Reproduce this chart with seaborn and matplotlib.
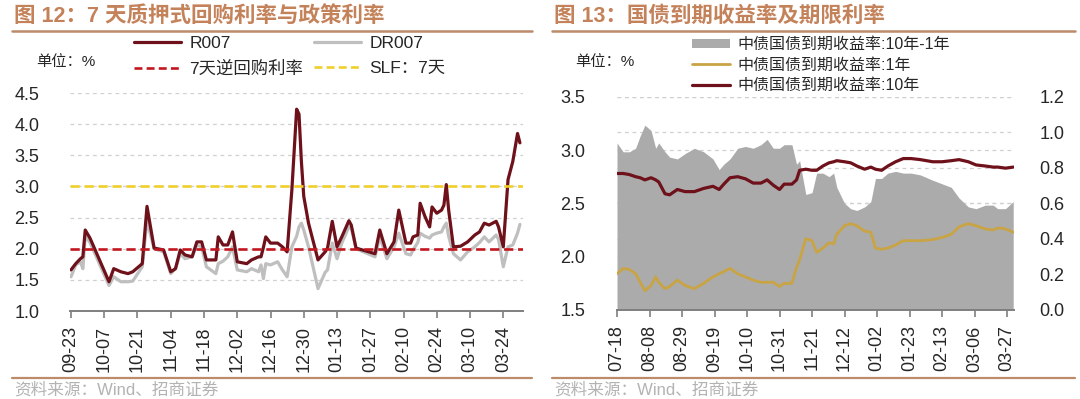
import pandas as pd
import matplotlib
matplotlib.use('Agg')
import matplotlib.pyplot as plt
import matplotlib.dates as mdates
from matplotlib.lines import Line2D
from matplotlib.patches import Patch
from matplotlib.ticker import FormatStrFormatter
import seaborn as sns

# ---- figure 12: 7-day repo rates vs policy rates ----
repo_dates = [
    '2022-09-23', '2022-09-25', '2022-09-27', '2022-09-28', '2022-09-29', '2022-10-01',
    '2022-10-09', '2022-10-11', '2022-10-14', '2022-10-17', '2022-10-19', '2022-10-23',
    '2022-10-25', '2022-10-28', '2022-11-01', '2022-11-04', '2022-11-06', '2022-11-08',
    '2022-11-10', '2022-11-13', '2022-11-15', '2022-11-17', '2022-11-19', '2022-11-23',
    '2022-11-24', '2022-11-26', '2022-11-28', '2022-11-30', '2022-12-02', '2022-12-06',
    '2022-12-08', '2022-12-11', '2022-12-12', '2022-12-13', '2022-12-14', '2022-12-16',
    '2022-12-19', '2022-12-21', '2022-12-23', '2022-12-25', '2022-12-27', '2022-12-28',
    '2022-12-29', '2022-12-30', '2023-01-01', '2023-01-05', '2023-01-08', '2023-01-09',
    '2023-01-11', '2023-01-13', '2023-01-15', '2023-01-18', '2023-01-19', '2023-01-21',
    '2023-01-29', '2023-01-31', '2023-02-03', '2023-02-06', '2023-02-08', '2023-02-11',
    '2023-02-13', '2023-02-14', '2023-02-16', '2023-02-17', '2023-02-19', '2023-02-21',
    '2023-02-22', '2023-02-24', '2023-02-26', '2023-02-27', '2023-02-28', '2023-03-01',
    '2023-03-03', '2023-03-06', '2023-03-09', '2023-03-12', '2023-03-14', '2023-03-16',
    '2023-03-18', '2023-03-21', '2023-03-22', '2023-03-24', '2023-03-26', '2023-03-28',
    '2023-03-30', '2023-03-31',
]
r007 = [
    1.66, 1.76, 1.84, 1.87, 2.30, 2.17,
    1.47, 1.68, 1.63, 1.60, 1.63, 1.76,
    2.68, 2.01, 1.98, 1.63, 1.68, 1.98,
    1.90, 1.87, 2.11, 2.11, 1.82, 1.82,
    2.19, 2.06, 2.06, 2.27, 1.79, 1.76,
    1.82, 1.87, 1.87, 2.02, 2.19, 2.09,
    2.09, 2.03, 1.95, 2.95, 4.24, 4.16,
    3.40, 2.84, 2.41, 1.82, 1.95, 2.01,
    2.44, 2.03, 2.19, 2.45, 2.38, 2.01,
    1.92, 2.30, 1.92, 2.11, 2.62, 2.09,
    2.09, 2.19, 2.22, 2.73, 2.52, 2.35,
    2.67, 2.57, 2.62, 2.70, 3.03, 2.62,
    2.03, 2.04, 2.11, 2.22, 2.27, 2.41,
    2.38, 2.44, 2.35, 2.03, 3.11, 3.40,
    3.85, 3.70,
]
dr007 = [
    1.55, 1.74, 1.79, 1.68, 2.20, 2.10,
    1.41, 1.55, 1.47, 1.47, 1.48, 1.71,
    2.45, 2.00, 1.95, 1.60, 1.68, 1.92,
    1.84, 1.87, 2.06, 2.03, 1.71, 1.60,
    1.76, 1.80, 1.87, 2.03, 1.66, 1.63,
    1.68, 1.63, 1.74, 1.52, 1.76, 1.74,
    1.79, 1.66, 1.55, 2.03, 2.20, 2.35,
    2.41, 2.30, 2.03, 1.36, 1.62, 1.66,
    2.09, 1.84, 2.09, 2.35, 2.33, 2.00,
    1.87, 2.19, 1.84, 2.03, 2.25, 1.92,
    1.90, 1.98, 2.10, 2.25, 2.20, 2.17,
    2.22, 2.25, 2.27, 2.35, 2.41, 2.20,
    1.92, 1.82, 1.95, 2.03, 2.10, 2.19,
    2.11, 2.22, 2.15, 1.71, 2.03, 2.06,
    2.25, 2.39,
]
rev_repo_7d = 2.0
slf_7d = 3.0
repo_ticks = pd.date_range('2022-09-23', periods=14, freq='14D')

# ---- figure 13: treasury yields and term spread ----
bond_dates = [
    '2022-07-18', '2022-07-22', '2022-07-26', '2022-07-30', '2022-08-02', '2022-08-05',
    '2022-08-09', '2022-08-12', '2022-08-14', '2022-08-18', '2022-08-21', '2022-08-26',
    '2022-08-31', '2022-09-06', '2022-09-12', '2022-09-18', '2022-09-22', '2022-09-25',
    '2022-09-29', '2022-10-04', '2022-10-09', '2022-10-14', '2022-10-19', '2022-10-23',
    '2022-10-27', '2022-10-31', '2022-11-03', '2022-11-08', '2022-11-11', '2022-11-13',
    '2022-11-17', '2022-11-21', '2022-11-24', '2022-11-28', '2022-12-02', '2022-12-05',
    '2022-12-07', '2022-12-12', '2022-12-16', '2022-12-20', '2022-12-25', '2022-12-29',
    '2023-01-01', '2023-01-05', '2023-01-09', '2023-01-14', '2023-01-19', '2023-01-24',
    '2023-01-30', '2023-02-07', '2023-02-13', '2023-02-19', '2023-02-24', '2023-03-02',
    '2023-03-07', '2023-03-13', '2023-03-18', '2023-03-21', '2023-03-26', '2023-03-31',
]
cgb_10y = [
    2.78, 2.78, 2.77, 2.75, 2.74, 2.72,
    2.74, 2.72, 2.70, 2.59, 2.58, 2.63,
    2.61, 2.61, 2.64, 2.66, 2.63, 2.68,
    2.74, 2.75, 2.73, 2.69, 2.69, 2.72,
    2.67, 2.63, 2.68, 2.68, 2.72, 2.81,
    2.82, 2.81, 2.81, 2.85, 2.88, 2.89,
    2.90, 2.89, 2.88, 2.85, 2.82, 2.84,
    2.82, 2.81, 2.85, 2.89, 2.92, 2.92,
    2.91, 2.89, 2.89, 2.90, 2.91, 2.89,
    2.86, 2.85, 2.84, 2.84, 2.83, 2.84,
]
cgb_1y = [
    1.84, 1.89, 1.88, 1.84, 1.76, 1.68,
    1.73, 1.81, 1.76, 1.70, 1.72, 1.78,
    1.73, 1.70, 1.75, 1.81, 1.84, 1.86,
    1.89, 1.84, 1.81, 1.78, 1.76, 1.76,
    1.76, 1.72, 1.75, 1.75, 1.90, 1.97,
    2.17, 2.15, 2.04, 2.08, 2.13, 2.12,
    2.21, 2.29, 2.31, 2.29, 2.24, 2.23,
    2.08, 2.07, 2.08, 2.11, 2.15, 2.15,
    2.15, 2.16, 2.18, 2.21, 2.28, 2.31,
    2.29, 2.26, 2.25, 2.27, 2.26, 2.23,
]
bond_ticks = pd.date_range('2022-07-18', periods=13, freq='21D')

DARK_RED = '#6E111A'
LIGHT_GRAY = '#BFBFBF'
FILL_GRAY = '#ABABAB'
GOLD = '#C9A444'
POLICY_RED = '#C3171F'
SLF_YELLOW = '#F0CF2A'
TITLE_COLOR = '#C4825A'
RULE_COLOR = '#BC8B6C'
TICK_COLOR = '#262626'
GRID_COLOR = '#D0D0D0'

sns.set_theme(style='white')
plt.rcParams['font.family'] = ['Liberation Sans', 'Noto Sans CJK SC', 'DejaVu Sans']
plt.rcParams['axes.unicode_minus'] = False

W, H = 1080, 399
fig = plt.figure(figsize=(W / 100, H / 100), dpi=100)
fig.patch.set_facecolor('white')


def px_rect(x0, y_top, x1, y_bottom):
    return [x0 / W, 1 - y_bottom / H, (x1 - x0) / W, (y_bottom - y_top) / H]


def style_xaxis(ax, ticks):
    for s in ['left', 'right', 'top']:
        ax.spines[s].set_visible(False)
    ax.spines['bottom'].set_visible(True)
    ax.spines['bottom'].set_color('#7F7F7F')
    ax.spines['bottom'].set_linewidth(1.4)
    ax.set_xticks(ticks)
    ax.xaxis.set_major_formatter(mdates.DateFormatter('%m-%d'))
    ax.tick_params(axis='x', bottom=True, length=5, width=1.2, color='#7F7F7F',
                   labelsize=13, labelcolor=TICK_COLOR, rotation=90, pad=6)
    ax.set_xlabel('')
    ax.set_ylabel('')


# chrome: titles, rules, sources
for x0, x1, title in [(12, 532, '图 12：7 天质押式回购利率与政策利率'),
                      (552, 1075, '图 13：国债到期收益率及期限利率')]:
    fig.text((x0 + 2) / W, 1 - 16 / H, title, fontsize=15.5, fontweight='bold',
             color=TITLE_COLOR, va='center', ha='left')
    fig.add_artist(Line2D([x0 / W, x1 / W], [1 - 31 / H] * 2, color=RULE_COLOR, lw=1.8))
    fig.add_artist(Line2D([x0 / W, x1 / W], [1 - 378 / H] * 2, color=RULE_COLOR, lw=1.6))
    fig.text((x0 + 2) / W, 1 - 390 / H, '资料来源：Wind、招商证券', fontsize=12,
             color='#B3B3B3', va='center', ha='left')

# ---------------- left chart ----------------
repo = pd.DataFrame({'date': pd.to_datetime(repo_dates), 'R007': r007, 'DR007': dr007})
ax1 = fig.add_axes(px_rect(70, 93, 523, 311))
ax1.set_facecolor('white')
ax1.set_yticks([1.0, 1.5, 2.0, 2.5, 3.0, 3.5, 4.0, 4.5])
for v in [1.5, 2.0, 2.5, 3.0, 3.5, 4.0, 4.5]:
    ax1.axhline(v, color=GRID_COLOR, lw=0.9, ls=(0, (3, 3)), zorder=0)
sns.lineplot(data=repo, x='date', y='DR007', color=LIGHT_GRAY, lw=2.3, ax=ax1, zorder=2)
sns.lineplot(data=repo, x='date', y='R007', color=DARK_RED, lw=2.3, ax=ax1, zorder=3)
ax1.axhline(rev_repo_7d, color=POLICY_RED, lw=1.9, ls=(0, (3.5, 1.8)), zorder=4)
ax1.axhline(slf_7d, color=SLF_YELLOW, lw=1.9, ls=(0, (3.5, 1.8)), zorder=4)
ax1.set_ylim(1.0, 4.5)
ax1.set_xlim(pd.Timestamp('2022-09-23') - pd.Timedelta(hours=10),
             pd.Timestamp('2022-09-23') + pd.Timedelta(days=190.3))
ax1.yaxis.set_major_formatter(FormatStrFormatter('%.1f'))
ax1.tick_params(axis='y', left=False, labelsize=13, labelcolor=TICK_COLOR, pad=16)
style_xaxis(ax1, repo_ticks)

fig.text(36 / W, 1 - 62 / H, '单位：%', fontsize=11, color=TICK_COLOR, va='center')
left_handles = [
    Line2D([], [], color=DARK_RED, lw=2.3),
    Line2D([], [], color=POLICY_RED, lw=1.9, ls=(0, (3, 1.6))),
    Line2D([], [], color=LIGHT_GRAY, lw=2.3),
    Line2D([], [], color=SLF_YELLOW, lw=1.9, ls=(0, (3, 1.6))),
]
left_labels = ['R007', '7天逆回购利率', 'DR007', 'SLF：7天']
fig.legend(left_handles, left_labels, loc='upper left', bbox_to_anchor=(134 / W, 1 - 36 / H),
           ncol=2, frameon=False, fontsize=12.5, handlelength=2.7, handletextpad=0.5,
           columnspacing=0.6, labelspacing=0.55, borderpad=0, borderaxespad=0)

# ---------------- right chart ----------------
bond = pd.DataFrame({'date': pd.to_datetime(bond_dates), '10Y': cgb_10y, '1Y': cgb_1y})
bond['spread'] = bond['10Y'] - bond['1Y']

ax2 = fig.add_axes(px_rect(617, 96.7, 1014.3, 310))
ax2.set_facecolor('white')
ax2r = ax2.twinx()
ax2t = ax2.twinx()
ax2r.patch.set_visible(False)
ax2t.patch.set_visible(False)

xmin = pd.Timestamp('2022-07-18')
xmax = xmin + pd.Timedelta(days=256.7)

# left scale gridlines (bottom layer)
ax2.set_ylim(1.5, 3.5)
ax2.set_yticks([1.5, 2.0, 2.5, 3.0, 3.5])
for v in [2.0, 2.5, 3.0, 3.5]:
    ax2.axhline(v, color=GRID_COLOR, lw=0.9, ls=(0, (3, 3)), zorder=0)
ax2.yaxis.set_major_formatter(FormatStrFormatter('%.1f'))
ax2.tick_params(axis='y', left=False, labelsize=13, labelcolor=TICK_COLOR, pad=17)
ax2.tick_params(axis='x', bottom=False, labelbottom=False)
for s in ax2.spines.values():
    s.set_visible(False)

# right scale: spread area
ax2r.fill_between(bond['date'], 0, bond['spread'], color=FILL_GRAY, lw=0, zorder=2)
for v in [0.2, 0.4, 0.6, 0.8, 1.0, 1.2]:
    ax2r.axhline(v, color=GRID_COLOR, lw=0.9, ls=(0, (3, 3)), zorder=0)
ax2r.set_ylim(0, 1.2)
ax2r.set_yticks([0.0, 0.2, 0.4, 0.6, 0.8, 1.0, 1.2])
ax2r.yaxis.set_major_formatter(FormatStrFormatter('%.1f'))
ax2r.tick_params(axis='y', right=False, labelsize=13, labelcolor=TICK_COLOR, pad=12)
for s in ax2r.spines.values():
    s.set_visible(False)

# top layer: yield lines on left scale
sns.lineplot(data=bond, x='date', y='1Y', color=GOLD, lw=2.0, ax=ax2t)
sns.lineplot(data=bond, x='date', y='10Y', color=DARK_RED, lw=2.3, ax=ax2t)
ax2t.set_ylim(1.5, 3.5)
ax2t.yaxis.set_visible(False)
ax2t.xaxis.set_visible(True)
style_xaxis(ax2t, bond_ticks)
for a in (ax2, ax2r, ax2t):
    a.set_xlim(xmin, xmax)

fig.text(575 / W, 1 - 62 / H, '单位：%', fontsize=11, color=TICK_COLOR, va='center')
right_handles = [
    Patch(facecolor=FILL_GRAY, edgecolor='none'),
    Line2D([], [], color=GOLD, lw=2.0),
    Line2D([], [], color=DARK_RED, lw=2.3),
]
right_labels = ['中债国债到期收益率:10年-1年', '中债国债到期收益率:1年', '中债国债到期收益率:10年']
fig.legend(right_handles, right_labels, loc='upper left', bbox_to_anchor=(692 / W, 1 - 37 / H),
           ncol=1, frameon=False, fontsize=11.5, handlelength=2.4, handleheight=0.5,
           handletextpad=0.45, labelspacing=0.35, borderpad=0, borderaxespad=0)

fig.savefig('out.png', dpi=100, facecolor='white')
